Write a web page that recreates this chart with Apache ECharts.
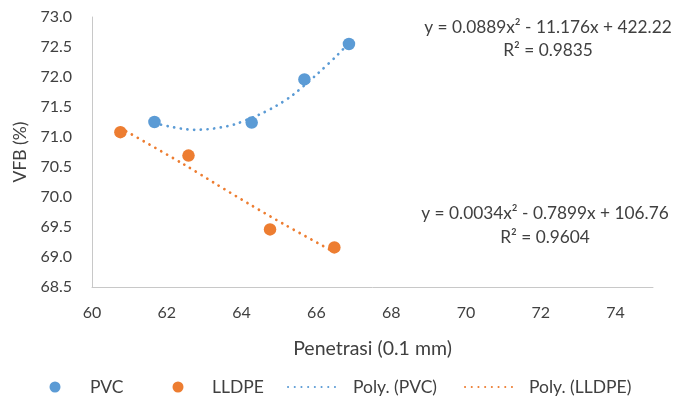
<!DOCTYPE html>
<html>
<head>
<meta charset="utf-8">
<script src="https://cdn.jsdelivr.net/npm/echarts@6/dist/echarts.min.js"></script>
<style>html,body{margin:0;padding:0;background:#fff}#c{width:674px;height:400px}</style>
</head>
<body>
<div id="c"></div>
<script>
// Data
const pvcX = [61.67, 64.27, 65.68, 66.87];
const pvcY = [71.25, 71.24, 71.96, 72.55];
const lldpeX = [60.76, 62.58, 64.76, 66.48];
const lldpeY = [71.08, 70.69, 69.46, 69.16];
// trendline points
const polyPvcX = [61.67, 62.03, 62.39, 62.74, 63.10, 63.45, 63.81, 64.46, 64.93, 65.37, 66.04, 66.57, 66.87];
const polyPvcY = [71.23, 71.18, 71.14, 71.12, 71.13, 71.16, 71.21, 71.37, 71.52, 71.70, 72.06, 72.37, 72.57];
const polyLldpeX = [60.76, 62.44, 63.28, 64.21, 65.15, 66.48];
const polyLldpeY = [71.15, 70.55, 70.23, 69.88, 69.54, 69.08];
const seriesNames = ['PVC', 'LLDPE', 'Poly. (PVC)', 'Poly. (LLDPE)'];
const eqPvc = ['y = 0.0889x² - 11.176x + 422.22', 'R² = 0.9835'];
const eqLldpe = ['y = 0.0034x² - 0.7899x + 106.76', 'R² = 0.9604'];
const xTitle = 'Penetrasi (0.1 mm)';
const yTitle = 'VFB (%)';

const zip = (xs, ys) => xs.map((x, i) => [x, ys[i]]);
const FONT = 'Lato';
const TXT = '#404040';
const BLUE = '#5B9BD5', ORANGE = '#ED7D31';

const legendText = pad => ({fontSize: 17.5, color: TXT, fontFamily: FONT, padding: [0, 0, 0, pad]});
const LEG_TOP = 378;

const chart = echarts.init(document.getElementById('c'), null, {renderer: 'canvas'});
chart.setOption({
  animation: false,
  textStyle: {fontFamily: FONT},
  grid: {left: 92, right: 21, top: 17, bottom: 113, containLabel: false},
  xAxis: {
    type: 'value', min: 60, max: 75, interval: 2,
    name: xTitle, nameLocation: 'middle', nameGap: 52,
    nameTextStyle: {fontSize: 19.5, color: TXT, fontFamily: FONT},
    axisLine: {show: true, onZero: false, lineStyle: {color: '#C8C8C8', width: 1}},
    axisTick: {show: false},
    splitLine: {show: false},
    axisLabel: {fontSize: 16, color: TXT, margin: 18, showMaxLabel: false, fontFamily: FONT}
  },
  yAxis: {
    type: 'value', min: 68.5, max: 73, interval: 0.5,
    name: yTitle, nameLocation: 'middle', nameGap: 60, nameRotate: 90,
    nameTextStyle: {fontSize: 17.5, color: TXT, fontFamily: FONT},
    axisLine: {show: true, onZero: false, lineStyle: {color: '#C8C8C8', width: 1}},
    axisTick: {show: false},
    splitLine: {show: false},
    axisLabel: {fontSize: 16, color: TXT, margin: 20, formatter: v => v.toFixed(1), fontFamily: FONT}
  },
  legend: [
    {left: 49.5, top: LEG_TOP, padding: 0, itemWidth: 11, itemHeight: 11, textStyle: legendText(24.5),
     data: [{name: seriesNames[0], icon: 'circle'}]},
    {left: 172.5, top: LEG_TOP, padding: 0, itemWidth: 11, itemHeight: 11, textStyle: legendText(23.5),
     data: [{name: seriesNames[1], icon: 'circle'}]},
    {left: 287, top: LEG_TOP, padding: 0, itemWidth: 52, itemHeight: 11, textStyle: legendText(8),
     data: [{name: seriesNames[2], itemStyle: {color: 'rgba(0,0,0,0)', borderWidth: 0}}]},
    {left: 464, top: LEG_TOP, padding: 0, itemWidth: 52, itemHeight: 11, textStyle: legendText(7),
     data: [{name: seriesNames[3], itemStyle: {color: 'rgba(0,0,0,0)', borderWidth: 0}}]}
  ],
  graphic: [
    {type: 'text', x: 548, y: 38.5, silent: true,
     style: {text: eqPvc.join('\n'), fill: TXT, font: '17.3px ' + FONT, align: 'center', verticalAlign: 'middle', lineHeight: 23}},
    {type: 'text', x: 545, y: 225.5, silent: true,
     style: {text: eqLldpe.join('\n'), fill: TXT, font: '17.3px ' + FONT, align: 'center', verticalAlign: 'middle', lineHeight: 23.6}}
  ],
  series: [
    {name: seriesNames[0], type: 'scatter', data: zip(pvcX, pvcY), symbolSize: 12.5, z: 5,
     itemStyle: {color: BLUE, opacity: 1}},
    {name: seriesNames[1], type: 'scatter', data: zip(lldpeX, lldpeY), symbolSize: 12.5, z: 5,
     itemStyle: {color: ORANGE, opacity: 1}},
    {name: seriesNames[2], type: 'line', data: zip(polyPvcX, polyPvcY), smooth: 0.3, symbol: 'none', z: 3,
     itemStyle: {color: BLUE},
     lineStyle: {color: BLUE, width: 2.7, type: [0.1, 6.6], cap: 'round'}},
    {name: seriesNames[3], type: 'line', data: zip(polyLldpeX, polyLldpeY), smooth: 0.3, symbol: 'none', z: 3,
     itemStyle: {color: ORANGE},
     lineStyle: {color: ORANGE, width: 2.7, type: [0.1, 6.6], cap: 'round'}}
  ]
});
</script>
</body>
</html>
